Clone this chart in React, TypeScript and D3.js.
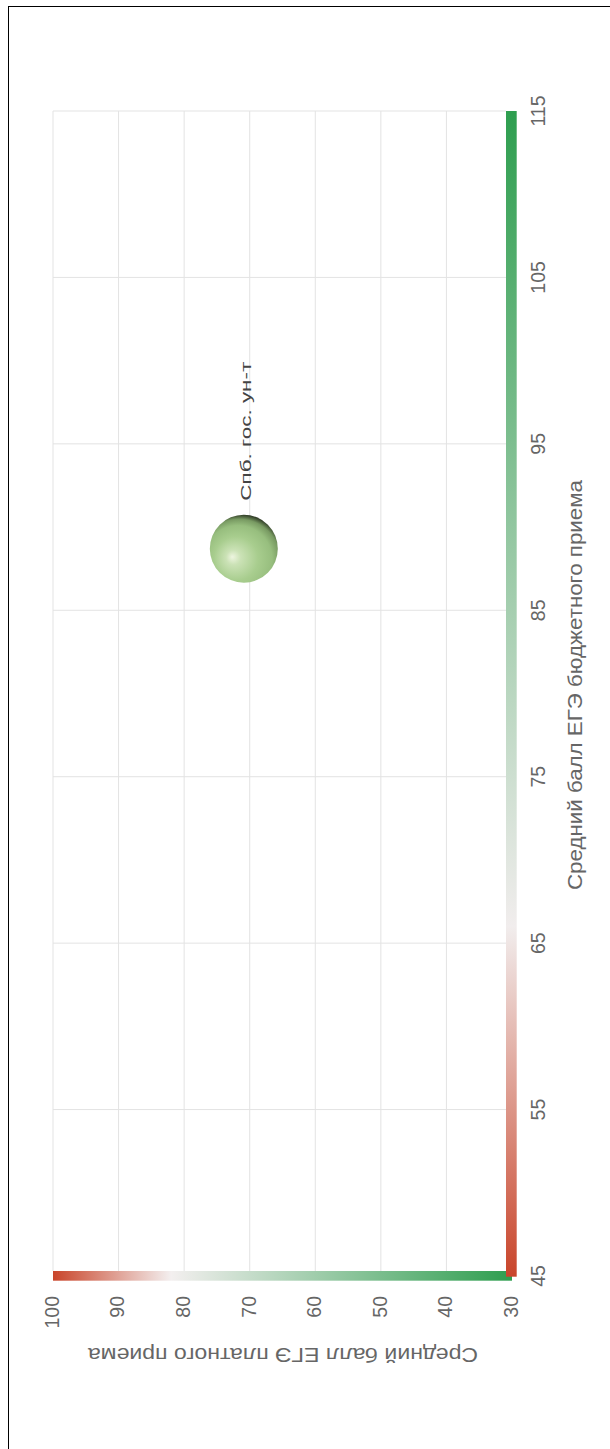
import React from "react";
import * as d3 from "d3";

// ---- data ----
const universities = ["Спб. гос. ун-т"];
const budgetScores = [88.7]; // Средний балл ЕГЭ бюджетного приема
const paidScores = [70.9]; // Средний балл ЕГЭ платного приема
const budgetTicks = [45, 55, 65, 75, 85, 95, 105, 115];
const paidTicks = [100, 90, 80, 70, 60, 50, 40, 30];
const budgetDomain = [45, 115];
const paidDomain = [30, 100];
const budgetTitle = "Средний балл ЕГЭ бюджетного приема";
const paidTitle = "Средний балл ЕГЭ платного приема";
const budgetColorStops = [
  { v: 45, c: "#c9452b" },
  { v: 66, c: "#f1eded" },
  { v: 115, c: "#2e9e4f" },
];
const paidColorStops = [
  { v: 100, c: "#c9452b" },
  { v: 82, c: "#f3efef" },
  { v: 30, c: "#2e9e4f" },
];

export default function App() {
  const W = 610;
  const H = 1449;
  // chart is rotated: budget axis runs bottom->top, paid axis runs right->left
  const sy = d3.scaleLinear().domain(budgetDomain).range([1276, 111]);
  const sx = d3.scaleLinear().domain(paidDomain).range([512, 53]);
  const rScale = d3.scaleSqrt().domain([0, 1]).range([0, 34]);

  const left = sx(100);
  const right = sx(30);
  const top = sy(115);
  const bottom = sy(45);
  const barW = 10.7;

  const bTick = budgetTicks.filter((t) => t !== 45);
  const pTick = paidTicks.filter((t) => t !== 30);

  return (
    <svg
      width={W}
      height={H}
      style={{ position: "absolute", left: 0, top: 0, display: "block" }}
      fontFamily="'Liberation Sans', Arial, Helvetica, sans-serif"
    >
      <defs>
        <linearGradient
          id="gBudget"
          gradientUnits="userSpaceOnUse"
          x1={0}
          x2={0}
          y1={bottom}
          y2={top}
        >
          {budgetColorStops.map((s, i) => (
            <stop
              key={i}
              offset={(s.v - budgetDomain[0]) / (budgetDomain[1] - budgetDomain[0])}
              stopColor={s.c}
            />
          ))}
        </linearGradient>
        <linearGradient
          id="gPaid"
          gradientUnits="userSpaceOnUse"
          x1={left}
          x2={right}
          y1={0}
          y2={0}
        >
          {paidColorStops.map((s, i) => (
            <stop
              key={i}
              offset={(paidDomain[1] - s.v) / (paidDomain[1] - paidDomain[0])}
              stopColor={s.c}
            />
          ))}
        </linearGradient>
        <radialGradient id="ball" cx="0.45" cy="0.68" r="0.72" fx="0.33" fy="0.62">
          <stop offset="0" stopColor="#eef5e0" />
          <stop offset="0.15" stopColor="#cbe2b6" />
          <stop offset="0.45" stopColor="#a8cd8e" />
          <stop offset="0.7" stopColor="#97be7e" />
          <stop offset="0.84" stopColor="#789a62" />
          <stop offset="0.94" stopColor="#323f28" />
          <stop offset="1" stopColor="#111" />
        </radialGradient>
      </defs>

      <rect x={8.5} y={6.5} width={800} height={1600} fill="none" stroke="#000" strokeWidth={1} />

      {/* grid */}
      {pTick.map((t) => (
        <line
          key={"pg" + t}
          x1={sx(t)}
          x2={sx(t)}
          y1={top}
          y2={bottom - 5}
          stroke="#e3e3e3"
          strokeWidth={1}
        />
      ))}
      {bTick.map((t) => (
        <line
          key={"bg" + t}
          x1={left}
          x2={right - 6}
          y1={sy(t)}
          y2={sy(t)}
          stroke="#e3e3e3"
          strokeWidth={1}
        />
      ))}

      {/* gradient axis bars */}
      <rect x={left} y={bottom - 5} width={right - left} height={barW - 1} fill="url(#gPaid)" />
      <rect x={right - 6} y={top} width={barW} height={bottom - top + 0.7} fill="url(#gBudget)" />

      {/* budget tick labels (right side) */}
      {budgetTicks.map((t) => (
        <text
          key={"bt" + t}
          transform={`translate(538,${sy(t)}) rotate(-90)`}
          textAnchor="middle"
          dy="0.35em"
          fontSize={19.5}
          fill="#666"
        >
          {t}
        </text>
      ))}
      {/* paid tick labels (bottom) */}
      {paidTicks.map((t) => (
        <text
          key={"pt" + t}
          transform={`translate(${sx(t)},1296) rotate(-90)`}
          textAnchor="end"
          dy="0.3em"
          fontSize={19.5}
          fill="#666"
        >
          {t}
        </text>
      ))}

      {/* axis titles */}
      <text
        transform={`translate(582,480) rotate(-90)`}
        textAnchor="end"
        fontSize={20}
        fill="#666"
        textLength={410}
        lengthAdjust="spacingAndGlyphs"
      >
        {budgetTitle}
      </text>
      <text
        transform={`translate(478,1348) rotate(180)`}
        textAnchor="start"
        fontSize={20}
        fill="#666"
        textLength={390}
        lengthAdjust="spacingAndGlyphs"
      >
        {paidTitle}
      </text>

      {/* bubbles */}
      {universities.map((u, i) => {
        const cx = sx(paidScores[i]);
        const cy = sy(budgetScores[i]);
        const r = rScale(1);
        return (
          <g key={u}>
            <circle cx={cx} cy={cy} r={r} fill="url(#ball)" />
            <text
              transform={`translate(${cx + 2},${cy - r - 14}) rotate(-90)`}
              textAnchor="start"
              dy="0.35em"
              fontSize={15.5}
              fill="#444"
              textLength={139}
              lengthAdjust="spacingAndGlyphs"
            >
              {u}
            </text>
          </g>
        );
      })}
    </svg>
  );
}
